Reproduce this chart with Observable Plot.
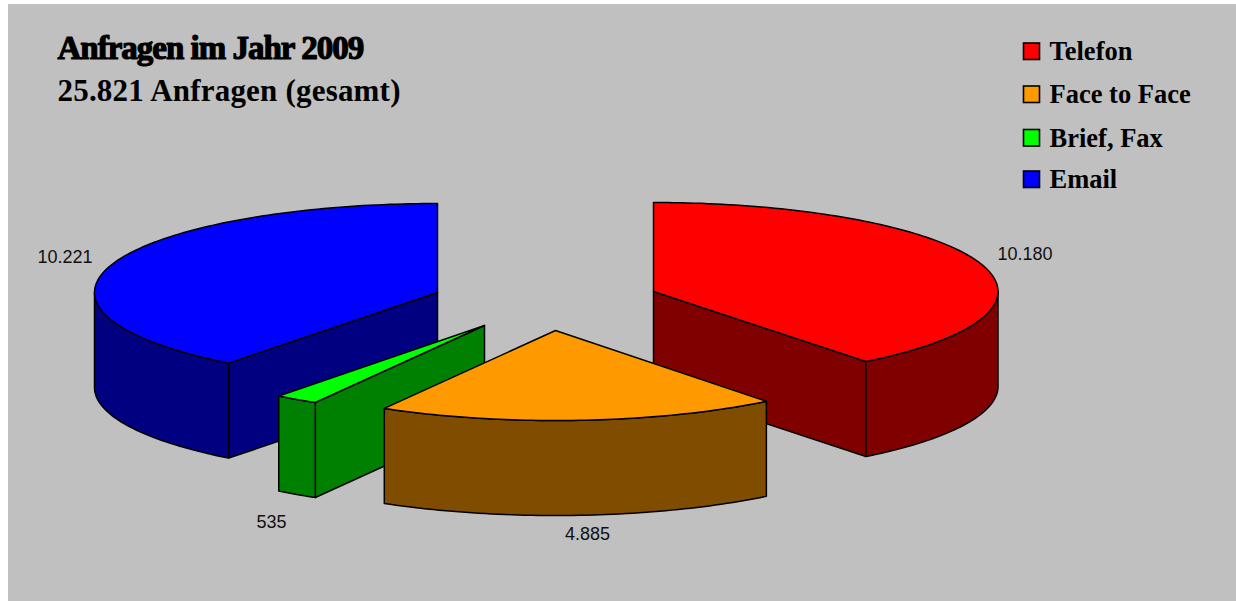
<!DOCTYPE html>
<html><head><meta charset="utf-8">
<script src="https://cdn.jsdelivr.net/npm/d3@7"></script>
<script src="https://cdn.jsdelivr.net/npm/@observablehq/plot@0.6"></script>
<style>
html,body{margin:0;padding:0;background:#fff}
svg{display:block}
.ttl text{letter-spacing:-1px}
.sub text{letter-spacing:0.2px}
</style></head><body>
<script>
// Data
const categories = ["Telefon", "Face to Face", "Brief, Fax", "Email"];
const values = [10180, 4885, 535, 10221];
const valueLabels = ["10.180", "4.885", "535", "10.221"];
const titleText = "Anfragen im Jahr 2009";
const subtitleText = "25.821 Anfragen (gesamt)";
// Styles
const topColors = ["#ff0000", "#ff9900", "#00ff00", "#0000ff"];
const sideColors = ["#800000", "#804c00", "#008000", "#000080"];
// Layout of the exploded slices
const centerX = [653, 555, 484, 437];
const centerY = [291, 330, 325, 292];
const radiusX = [344.5, 342, 338, 343];
const radiusY = [89, 90, 89, 89];
const depth = 95;
const labelX = [997, 587, 271, 92];
const labelY = [254, 534, 522, 257];
const labelAnchor = ["start", "middle", "middle", "end"];
const legendY = [43, 86, 129.5, 171];
const W = 1236, H = 601;

const total = d3.sum(values);
const ends = d3.cumsum(values).map(v => v / total * 2 * Math.PI);
const starts = ends.map((_, i) => i ? ends[i - 1] : 0);

const at = (i, a, dz = 0) => ({
  x: centerX[i] + radiusX[i] * Math.sin(a),
  y: centerY[i] - radiusY[i] * Math.cos(a) + dz
});
const arc = (i, a0, a1, dz = 0) => {
  const n = Math.max(2, Math.ceil((a1 - a0) / 0.02));
  return d3.range(n + 1).map(k => at(i, a0 + (a1 - a0) * k / n, dz));
};
const face = (pts, fill) => Plot.line(pts, {
  x: "x", y: "y", fill, stroke: "#000", strokeWidth: 1.5, curve: "linear-closed"
});

function slice(i) {
  const a0 = starts[i], a1 = ends[i], c = {x: centerX[i], y: centerY[i]};
  const cb = {x: c.x, y: c.y + depth};
  const out = [];
  const wall = a => face([c, at(i, a), at(i, a, depth), cb], sideColors[i]);
  if (a0 > Math.PI) out.push(wall(a0));
  if (a1 < Math.PI) out.push(wall(a1));
  const w0 = Math.max(a0, Math.PI / 2), w1 = Math.min(a1, 3 * Math.PI / 2);
  if (w1 > w0) out.push(face([...arc(i, w0, w1), ...arc(i, w0, w1, depth).reverse()], sideColors[i]));
  out.push(face([c, ...arc(i, a0, a1)], topColors[i]));
  return out;
}

const idx = d3.range(categories.length);
const serif = "Liberation Serif";
const valueLabelMark = anchor => Plot.text(idx.filter(i => labelAnchor[i] === anchor), {
  x: i => labelX[i], y: i => labelY[i], text: i => valueLabels[i],
  textAnchor: anchor, fontFamily: "Liberation Sans", fontSize: 18, fill: "#111"
});
const chart = Plot.plot({
  width: W, height: H, margin: 0,
  x: {domain: [0, W], range: [0, W], axis: null},
  y: {domain: [0, H], range: [0, H], axis: null},
  marks: [
    Plot.rect([0], {x1: () => 8, x2: () => W, y1: () => 4, y2: () => H, fill: "#c0c0c0"}),
    ...[3, 0, 2, 1].flatMap(slice),
    valueLabelMark("start"), valueLabelMark("middle"), valueLabelMark("end"),
    Plot.text([titleText], {
      x: () => 57, y: () => 48, text: d => d, textAnchor: "start", className: "ttl",
      fontFamily: serif, fontWeight: "bold", fontSize: 33, fill: "#000", stroke: "#000", strokeWidth: 1.2
    }),
    Plot.text([subtitleText], {
      x: () => 57, y: () => 91, text: d => d, textAnchor: "start", className: "sub",
      fontFamily: serif, fontWeight: "bold", fontSize: 31, fill: "#000"
    }),
    Plot.rect(idx, {
      x1: () => 1023.5, x2: () => 1039.5, y1: i => legendY[i], y2: i => legendY[i] + 16.5,
      fill: i => topColors[i], stroke: "#000", strokeWidth: 1.6
    }),
    Plot.text(idx, {
      x: () => 1049, y: i => legendY[i] + 8.5, text: i => categories[i], textAnchor: "start",
      fontFamily: serif, fontWeight: "bold", fontSize: 26.5, fill: "#000"
    })
  ]
});
document.body.appendChild(chart);
</script>
</body></html>
